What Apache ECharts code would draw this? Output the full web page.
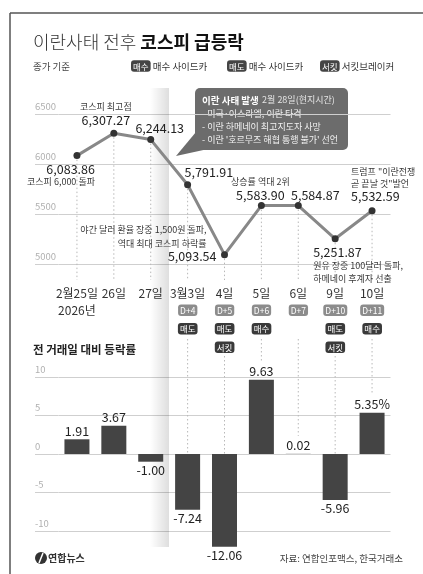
<!DOCTYPE html>
<html>
<head>
<meta charset="utf-8">
<script src="https://cdn.jsdelivr.net/npm/echarts@6/dist/echarts.min.js"></script>
<style>
  html, body { margin: 0; padding: 0; background: #fff; }
  #main { width: 423px; height: 574px; }
</style>
</head>
<body>
<div id="main"></div>
<script>
const days = ['2월25일', '26일', '27일', '3월3일', '4일', '5일', '6일', '9일', '10일'];
const years = ['2026년', '', '', '', '', '', '', '', ''];
const dayTags = ['', '', '', 'D+4', 'D+5', 'D+6', 'D+7', 'D+10', 'D+11'];
const trades = [[], [], [], ['매도'], ['매도', '서킷'], ['매수'], [], ['매도', '서킷'], ['매수']];
const kospiClose = [6083.86, 6307.27, 6244.13, 5791.91, 5093.54, 5583.90, 5584.87, 5251.87, 5532.59];
const changeRate = [1.91, 3.67, -1.00, -7.24, -12.06, 9.63, 0.02, -5.96, 5.35];
const notes = [
  '코스피 6,000 돌파',
  '코스피 최고점',
  '',
  '',
  '야간 달러 환율 장중 1,500원 돌파,\n역대 최대 코스피 하락률',
  '상승률 역대 2위',
  '',
  '원유 장중 100달러 돌파,\n하메네이 후계자 선출',
  '트럼프 "이란전쟁\n곧 끝날 것"발언'
];
const kospiAxis = [5000, 6500, 500];
const rateAxis = [-10, 10, 5];

const FONT = '"Noto Sans CJK KR", "Noto Sans", sans-serif';

// where each close label sits around its point
const place = [
  { align: 'right', va: 'top', off: [18, 7], noteFirst: false, ns: 'nt' },
  { align: 'center', va: 'bottom', off: [-8, -7], noteFirst: true, ns: 'n' },
  { align: 'center', va: 'bottom', off: [9, -4.5], noteFirst: true, ns: 'n' },
  { align: 'left', va: 'bottom', off: [-3, -6.5], noteFirst: true, ns: 'n' },
  { align: 'right', va: 'bottom', off: [-8, 8.5], noteFirst: true, ns: 'nr' },
  { align: 'center', va: 'bottom', off: [-1, -4], noteFirst: true, ns: 'nw' },
  { align: 'center', va: 'bottom', off: [17, -4], noteFirst: true, ns: 'n' },
  { align: 'left', va: 'top', off: [-22, 7], noteFirst: false, ns: 'n' },
  { align: 'left', va: 'bottom', off: [-21, -7.7], noteFirst: true, ns: 'nt' }
];

const fmt = v => v.toLocaleString('en-US', { minimumFractionDigits: 2, maximumFractionDigits: 2 });

const lineData = kospiClose.map((v, i) => {
  const p = place[i];
  const noteRows = notes[i] ? notes[i].split('\n').map(s => '{' + p.ns + '|' + s + '}') : [];
  const valRow = '{v|' + fmt(v) + '}';
  const rows = p.noteFirst ? noteRows.concat(valRow) : [valRow].concat(noteRows);
  return {
    value: v,
    label: {
      show: true, position: 'inside', align: p.align, verticalAlign: p.va,
      offset: p.off, formatter: rows.join('\n')
    }
  };
});

const badge = (bg) => ({
  fontSize: 8.5, color: '#fff', backgroundColor: bg, borderRadius: 3,
  padding: [2, 2, 1, 2], lineHeight: 10, fontFamily: FONT
});

const yAxisCommon = (range, gi) => ({
  type: 'value', gridIndex: gi, min: range[0], max: range[1], interval: range[2],
  axisLine: { show: false },
  axisTick: { show: true, length: 23.5, lineStyle: { color: '#cfcfcf' } },
  splitLine: { lineStyle: { color: '#cfcfcf', width: 1 } },
  axisLabel: {
    align: 'left', margin: 23.5, verticalAlign: 'bottom', padding: [0, 0, 3, 0],
    color: '#b0b0b0', fontSize: 9.5, fontFamily: FONT, formatter: v => String(v)
  }
});

const chart = echarts.init(document.getElementById('main'));

const option = {
  animation: false,
  backgroundColor: '#fff',
  textStyle: { fontFamily: FONT },
  grid: [
    { left: 58.5, right: 32.5, top: 114, height: 150 },
    { left: 58.5, right: 32.5, top: 377, height: 154 }
  ],
  xAxis: [
    {
      type: 'category', gridIndex: 0, data: days,
      axisLine: { show: false }, axisTick: { show: false }, splitLine: { show: false },
      axisLabel: {
        interval: 0, margin: 21,
        formatter: (val, i) => {
          const rows = ['{d|' + val + '}'];
          if (years[i]) rows.push('{y|' + years[i] + '}');
          if (dayTags[i]) rows.push('{s| }{t|' + dayTags[i] + '}');
          trades[i].forEach(t => rows.push('{s| }{a|' + t + '}'));
          return rows.join('\n');
        },
        rich: {
          d: { fontSize: 12, color: '#333', lineHeight: 16, fontFamily: FONT },
          y: { fontSize: 12, color: '#333', lineHeight: 19, fontFamily: FONT },
          s: { fontSize: 1, lineHeight: 18.5 },
          t: badge('#8c8c8c'),
          a: badge('#3a3a3a')
        }
      }
    },
    { type: 'category', gridIndex: 1, data: days, show: false }
  ],
  yAxis: [yAxisCommon(kospiAxis, 0), yAxisCommon(rateAxis, 1)],
  graphic: [
    // frame
    { type: 'line', shape: { x1: 10, y1: 13, x2: 423, y2: 13 }, style: { stroke: '#555', lineWidth: 1.5 } },
    { type: 'line', shape: { x1: 10, y1: 13, x2: 10, y2: 574 }, style: { stroke: '#555', lineWidth: 1.5 } },
    // 2/28 band
    {
      type: 'rect', z: 1, shape: { x: 150, y: 88, width: 19, height: 459 },
      style: {
        fill: new echarts.graphic.LinearGradient(0, 0, 1, 0, [
          { offset: 0, color: 'rgba(0,0,0,0)' },
          { offset: 1, color: 'rgba(0,0,0,0.13)' }
        ])
      }
    },
    // title
    {
      type: 'text', x: 33, y: 42,
      style: {
        text: '{l|이란사태 전후 }{b|코스피 급등락}', verticalAlign: 'middle',
        rich: {
          l: { fontSize: 18, fontWeight: 300, fill: '#333', fontFamily: FONT },
          b: { fontSize: 18, fontWeight: 'bold', fill: '#111', fontFamily: FONT }
        }
      }
    },
    { type: 'text', x: 33, y: 66, style: { text: '종가 기준', fontSize: 9.5, fill: '#444', fontFamily: FONT, verticalAlign: 'middle' } },
    ...[[131, '매수', '매수 사이드카'], [227, '매도', '매수 사이드카'], [320, '서킷', '서킷브레이커']].map(d => ({
      type: 'text', x: d[0], y: 66,
      style: {
        text: '{k|' + d[1] + '}{t| ' + d[2] + '}', verticalAlign: 'middle',
        rich: {
          k: { fontSize: 8.5, fill: '#fff', backgroundColor: '#444', borderRadius: 3, padding: [2, 2, 1, 2], fontFamily: FONT },
          t: { fontSize: 9.5, fill: '#333', fontFamily: FONT }
        }
      }
    })),
    // event box
    {
      type: 'group', z: 20,
      children: [
        { type: 'polygon', shape: { points: [[196, 132], [208, 149], [176, 156]] }, style: { fill: '#6c6c6c' } },
        { type: 'rect', shape: { x: 195, y: 88, width: 153, height: 62, r: 5 }, style: { fill: '#6c6c6c' } },
        {
          type: 'text', x: 202, y: 100,
          style: {
            text: '{b|이란 사태 발생} {l|2월 28일(현지시간)}', verticalAlign: 'middle',
            rich: {
              b: { fontSize: 9.5, fontWeight: 'bold', fill: '#fff', fontFamily: FONT },
              l: { fontSize: 9, fill: '#e4e4e4', fontFamily: FONT }
            }
          }
        },
        { type: 'text', x: 202, y: 114, style: { text: '- 미국·이스라엘, 이란 타격', fontSize: 9, fill: '#f2f2f2', fontFamily: FONT, verticalAlign: 'middle' } },
        { type: 'text', x: 202, y: 127, style: { text: '- 이란 하메네이 최고지도자 사망', fontSize: 9, fill: '#f2f2f2', fontFamily: FONT, verticalAlign: 'middle' } },
        { type: 'text', x: 202, y: 140, style: { text: "- 이란 '호르무즈 해협 통행 불가' 선언", fontSize: 9, fill: '#f2f2f2', fontFamily: FONT, verticalAlign: 'middle' } }
      ]
    },
    // section title
    { type: 'text', x: 33, y: 350, style: { text: '전 거래일 대비 등락률', fontSize: 11.5, fontWeight: 'bold', fill: '#222', fontFamily: FONT, verticalAlign: 'middle' } },
    // footer
    { type: 'circle', shape: { cx: 41, cy: 558, r: 6 }, style: { fill: '#333' } },
    { type: 'line', shape: { x1: 43, y1: 553, x2: 39, y2: 563 }, style: { stroke: '#fff', lineWidth: 1.5 } },
    { type: 'text', x: 48, y: 558, style: { text: '연합뉴스', fontSize: 10, fontWeight: 'bold', fill: '#333', fontFamily: FONT, verticalAlign: 'middle' } },
    { type: 'text', x: 403, y: 558, style: { text: '자료: 연합인포맥스, 한국거래소', fontSize: 9.5, fill: '#444', fontFamily: FONT, align: 'right', verticalAlign: 'middle' } }
  ],
  series: [
    {
      type: 'custom', xAxisIndex: 0, yAxisIndex: 0, z: 1, silent: true,
      data: kospiClose.map((v, i) => [i, v]),
      renderItem: (params, api) => {
        const p = api.coord([api.value(0), api.value(1)]);
        const base = api.coord([api.value(0), kospiAxis[0]]);
        return {
          type: 'line',
          shape: { x1: p[0], y1: p[1], x2: p[0], y2: base[1] + 16 },
          style: { stroke: '#b8b8b8', lineWidth: 1, lineDash: [1.5, 2.5] }
        };
      }
    },
    {
      type: 'line', xAxisIndex: 0, yAxisIndex: 0, z: 3,
      data: lineData,
      symbol: 'circle', symbolSize: 7,
      itemStyle: { color: '#333' },
      lineStyle: { color: '#888', width: 3 },
      label: {
        fontFamily: FONT,
        rich: {
          v: { fontSize: 12.5, color: '#222', lineHeight: 13, fontFamily: FONT },
          n: { fontSize: 9, color: '#383838', lineHeight: 13, fontFamily: FONT },
          nt: { fontSize: 9, color: '#383838', lineHeight: 12, fontFamily: FONT },
          nw: { fontSize: 9, color: '#383838', lineHeight: 15, fontFamily: FONT },
          nr: { fontSize: 9, color: '#383838', lineHeight: 14, padding: [0, 10, 0, 0], fontFamily: FONT }
        }
      }
    },
    {
      type: 'custom', xAxisIndex: 1, yAxisIndex: 1, z: 1, silent: true,
      data: changeRate.map((v, i) => [i, v]).filter(d => dayTags[d[0]]),
      renderItem: (params, api) => {
        const i = api.value(0);
        const v = api.value(1);
        const top = 322 + 17 * Math.max(1, trades[i].length);
        const end = v > 0 ? api.coord([i, v])[1] - 18 : api.coord([i, 0])[1];
        const x = api.coord([i, 0])[0];
        return {
          type: 'line',
          shape: { x1: x, y1: top, x2: x, y2: end },
          style: { stroke: '#b8b8b8', lineWidth: 1, lineDash: [1.5, 2.5] }
        };
      }
    },
    {
      type: 'bar', xAxisIndex: 1, yAxisIndex: 1, z: 3, barWidth: 25, clip: false,
      itemStyle: { color: '#444' },
      data: changeRate,
      label: {
        show: true, position: 'outside', distance: 2, fontSize: 12.5, color: '#222', fontFamily: FONT,
        formatter: p => p.value.toFixed(2) + (p.dataIndex === changeRate.length - 1 ? '%' : '')
      }
    }
  ]
};

chart.setOption(option);
</script>
</body>
</html>
